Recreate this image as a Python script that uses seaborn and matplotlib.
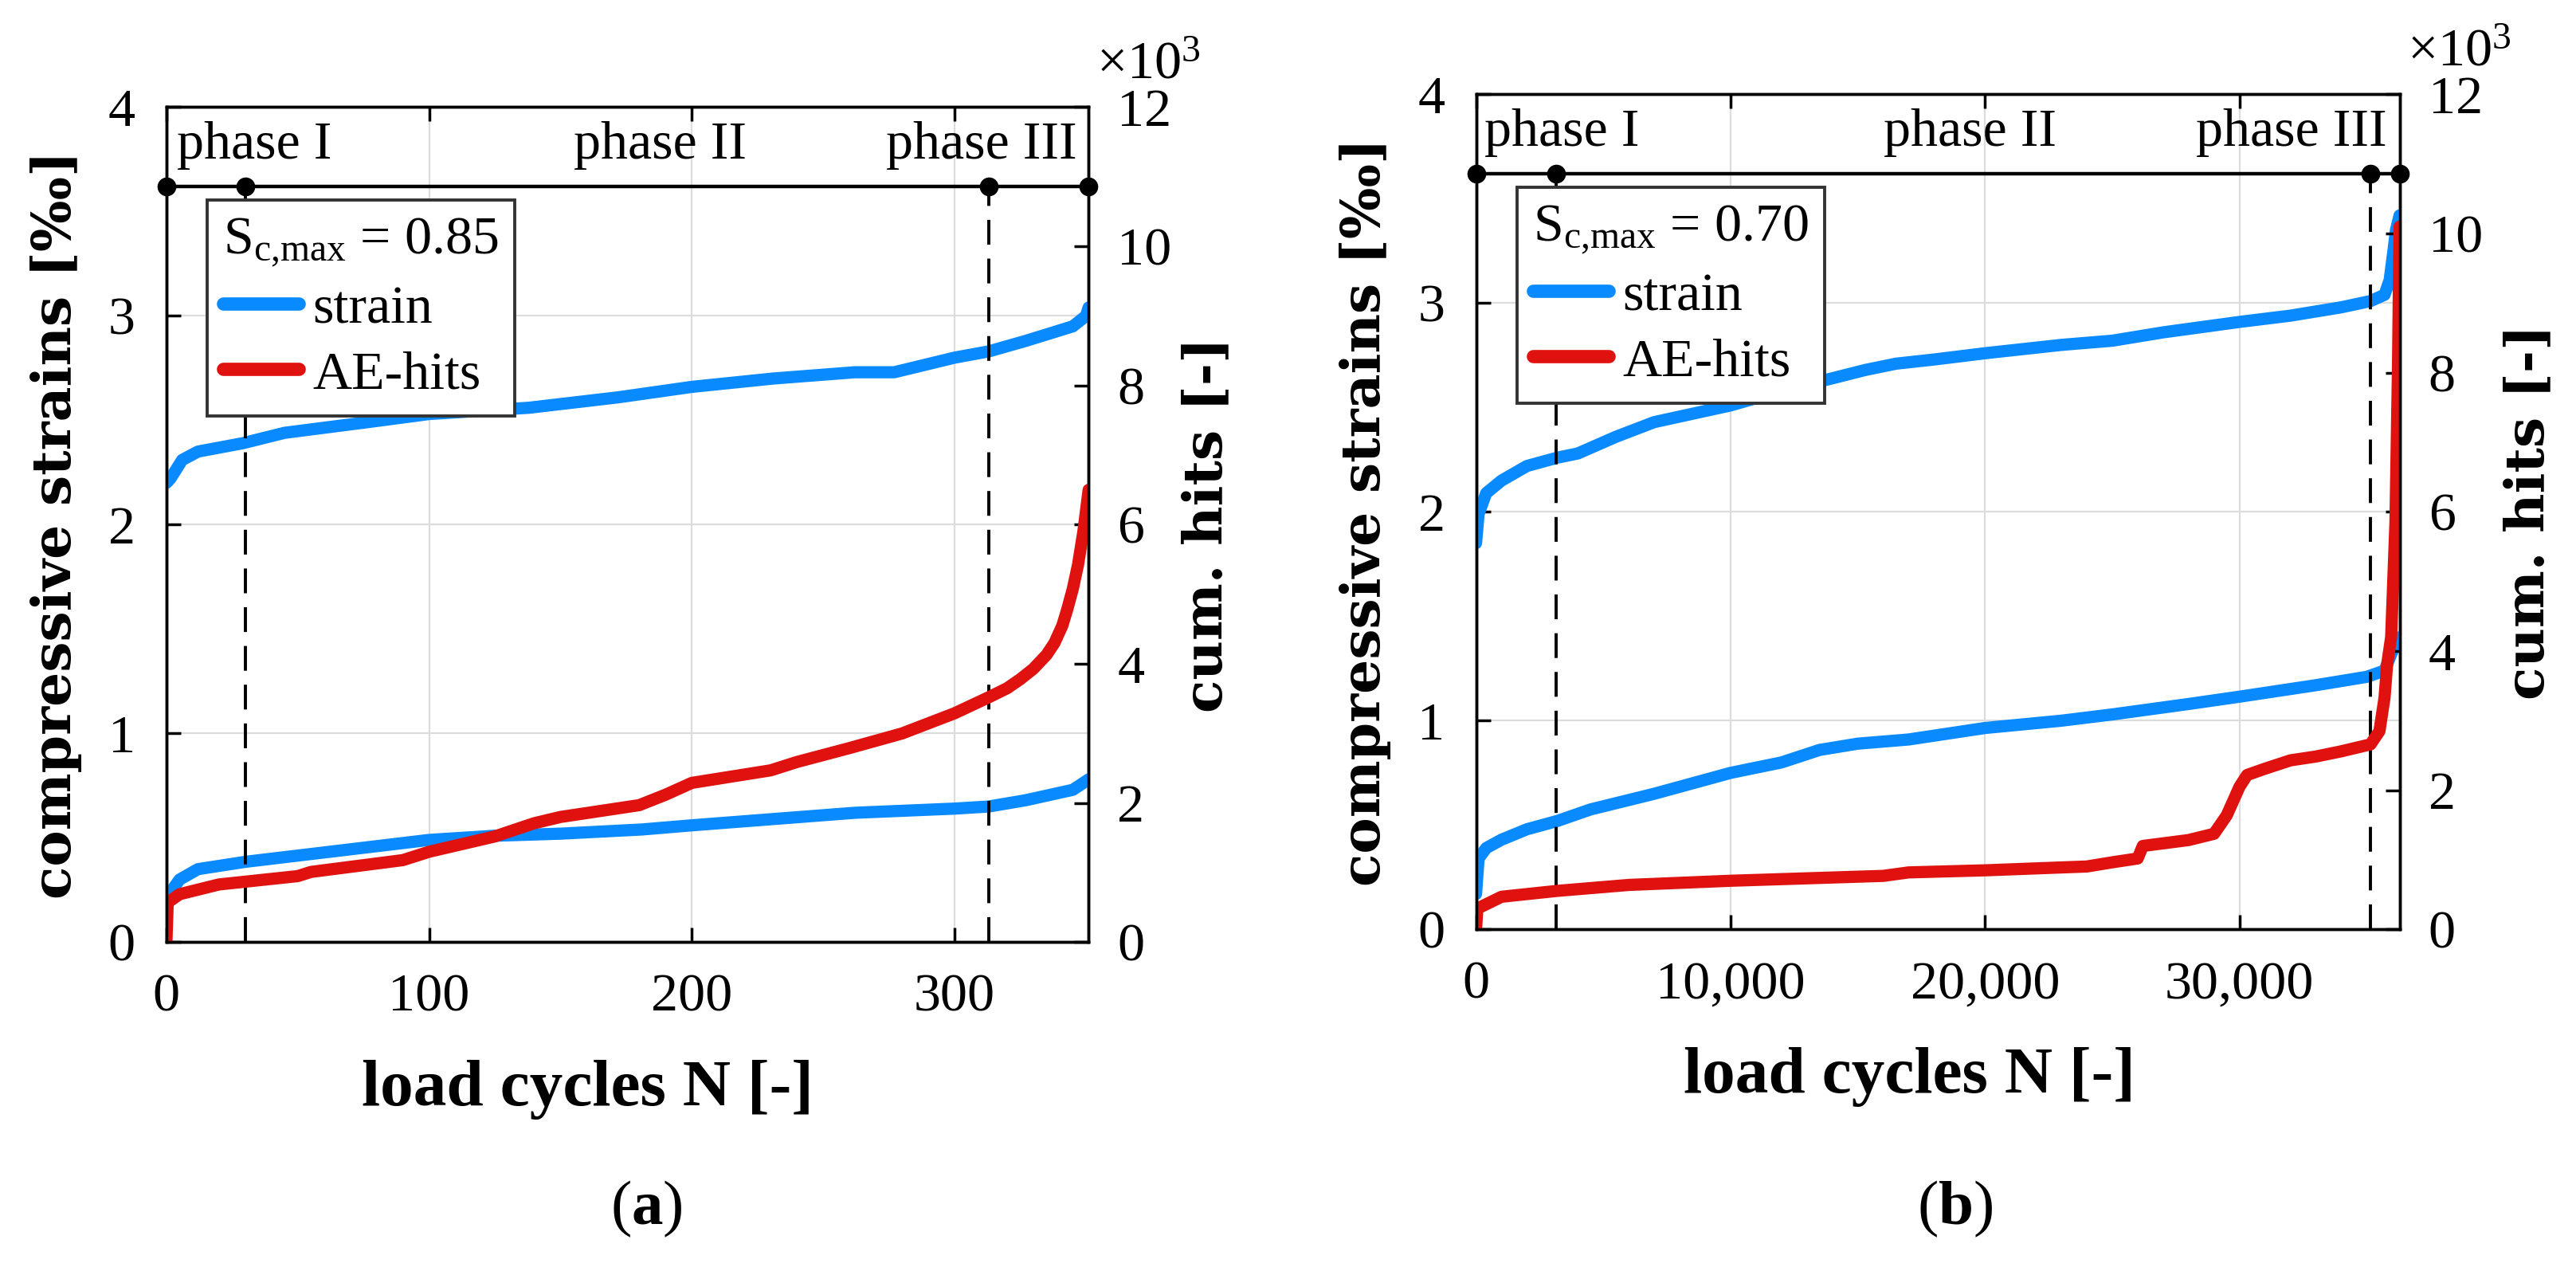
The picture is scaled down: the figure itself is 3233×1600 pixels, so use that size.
import matplotlib
matplotlib.use('Agg')
import matplotlib.pyplot as plt
import seaborn as sns
from matplotlib.lines import Line2D
from matplotlib.ticker import FuncFormatter

sns.set_style('ticks')
plt.rcParams['font.family'] = ['Liberation Serif', 'DejaVu Serif']
plt.rcParams['mathtext.fontset'] = 'custom'
plt.rcParams['mathtext.rm'] = 'Liberation Serif'
plt.rcParams['mathtext.bf'] = 'Liberation Serif:bold'
plt.rcParams['mathtext.it'] = 'Liberation Serif:italic'
for key in ['text.color', 'axes.labelcolor', 'xtick.color', 'ytick.color', 'axes.edgecolor']:
    plt.rcParams[key] = 'black'

BLUE = '#0A8AFF'
RED = '#E0120F'

# ---------------- panel (a): S_c,max = 0.85 ----------------
a_n_upper = [0, 1.5, 6, 12, 29, 45, 76, 100, 138, 172, 200, 231, 262, 277, 300, 313, 327, 345, 350, 351]
a_strain_upper = [2.20, 2.22, 2.31, 2.35, 2.39, 2.44, 2.49, 2.53, 2.56, 2.61, 2.66, 2.70, 2.73, 2.73,
                  2.80, 2.83, 2.88, 2.95, 3.00, 3.04]
a_n_lower = [0, 0.5, 5, 12, 30, 60, 100, 125, 150, 181, 200, 231, 262, 300, 313, 327, 345, 351]
a_strain_lower = [0.20, 0.22, 0.30, 0.35, 0.385, 0.43, 0.49, 0.51, 0.52, 0.54, 0.56, 0.59, 0.62, 0.64,
                  0.65, 0.68, 0.73, 0.78]
a_n_hits = [0, 0.5, 5, 20, 30, 50, 55, 90, 100, 125, 140, 150, 180, 190, 200, 230, 240, 260, 280, 300,
            313, 320, 325, 330, 335, 338, 341, 343, 345, 347, 349, 351]
a_hits = [0, 570, 690, 830, 870, 950, 1010, 1180, 1300, 1520, 1710, 1800, 1970, 2120, 2290, 2470, 2590,
          2790, 3000, 3290, 3520, 3650, 3780, 3930, 4130, 4300, 4550, 4800, 5080, 5430, 5900, 6500]
a_phase_bounds = [0, 30, 313, 351]
a_xticks = [0, 100, 200, 300]
a_smax = '0.85'

# ---------------- panel (b): S_c,max = 0.70 ----------------
b_n_upper = [0, 100, 400, 1000, 2000, 3200, 4000, 5500, 7000, 10000, 12000, 14000, 15300, 16500, 18000,
             20000, 23000, 25000, 27000, 30000, 32000, 34000, 35150, 35700, 35900, 36050, 36150, 36290]
b_strain_upper = [1.85, 1.99, 2.09, 2.15, 2.22, 2.26, 2.28, 2.36, 2.43, 2.51, 2.58, 2.64, 2.68, 2.71, 2.73,
                  2.76, 2.80, 2.82, 2.86, 2.91, 2.94, 2.98, 3.01, 3.04, 3.11, 3.25, 3.35, 3.42]
b_n_lower = [0, 100, 400, 1000, 2000, 3200, 4500, 7000, 10000, 12000, 13500, 15000, 17000, 20000, 23000,
             25000, 28000, 30000, 33000, 35000, 35700, 36000, 36290]
b_strain_lower = [0.17, 0.34, 0.39, 0.43, 0.48, 0.52, 0.575, 0.65, 0.75, 0.80, 0.86, 0.89, 0.91, 0.965,
                  1.00, 1.03, 1.08, 1.115, 1.17, 1.21, 1.24, 1.33, 1.40]
b_n_hits = [0, 50, 1000, 3200, 6000, 10000, 16000, 17000, 20000, 24000, 25000, 26000, 26200, 28000, 29000,
            29500, 30000, 30300, 31000, 32000, 33000, 34000, 35150, 35500, 35700, 35800, 35960, 36130,
            36230, 36290]
b_hits = [0, 300, 470, 555, 640, 700, 770, 820, 850, 905, 965, 1020, 1200, 1285, 1375, 1640, 2050, 2220,
          2310, 2430, 2485, 2560, 2660, 2850, 3330, 3800, 4200, 5860, 8110, 10100]
b_phase_bounds = [0, 3160, 35150, 36290]
b_xticks = [0, 10000, 20000, 30000]
b_smax = '0.70'

phase_names = ['phase I', 'phase II', 'phase III']
phase_level = 3.62
hits_ticks = [0, 2000, 4000, 6000, 8000, 10000, 12000]

FS = 49
LAB = 60
YLAB = 49
LW = 11

fig = plt.figure(figsize=(32.33, 16), dpi=100)
ax_a = fig.add_axes([0.0646, 0.261, 0.358, 0.655])
ax_b = fig.add_axes([0.573, 0.271, 0.3585, 0.655])


def draw_panel(ax, n_up, s_up, n_lo, s_lo, n_hits, hits, bounds, xticks, smax,
               xmax, fmt, xlab_x, rlab_x, txt_pos):
    ax.grid(True, color='#dcdcdc', lw=1.6)
    ax.set_axisbelow(True)
    sns.lineplot(x=n_up, y=s_up, ax=ax, color=BLUE, lw=LW, estimator=None, sort=False, zorder=3)
    sns.lineplot(x=n_lo, y=s_lo, ax=ax, color=BLUE, lw=LW, estimator=None, sort=False, zorder=3)
    ax.vlines(bounds[1:3], 0, phase_level, colors='black', lw=2.8, linestyles=(0, (8, 4.5)), zorder=4)
    ax.plot(bounds, [phase_level] * len(bounds), color='black', lw=3.2, marker='o', ms=16,
            clip_on=False, zorder=6)
    ax.set_xlim(0, xmax)
    ax.set_ylim(0, 4)
    ax.set_xticks(xticks)
    ax.set_yticks([0, 1, 2, 3, 4])
    ax.xaxis.set_major_formatter(FuncFormatter(fmt))
    ax.tick_params(direction='in', length=13, width=2.5, labelsize=FS, top=True, right=False, pad=28)
    for sp in ax.spines.values():
        sp.set_linewidth(2.5)
        sp.set_color('black')
    ax.set_xlabel('load cycles N [-]', fontsize=LAB, fontweight='bold')
    ax.xaxis.set_label_coords(xlab_x, -0.141)
    ax.set_ylabel('compressive strains [‰]', fontsize=YLAB, fontweight='bold', family='DejaVu Serif')
    ax.yaxis.set_label_coords(-0.0915, 0.5)

    trans = ax.transAxes
    ax.text(txt_pos[0], 0.938, phase_names[0], transform=trans, fontsize=FS, ha='left', va='baseline')
    ax.text(txt_pos[1], 0.938, phase_names[1], transform=trans, fontsize=FS, ha='center', va='baseline')
    ax.text(txt_pos[2], 0.938, phase_names[2], transform=trans, fontsize=FS, ha='right', va='baseline')

    ax2 = ax.twinx()
    sns.lineplot(x=n_hits, y=hits, ax=ax2, color=RED, lw=LW, estimator=None, sort=False)
    ax2.set_ylim(0, 12000)
    ax2.set_yticks(hits_ticks)
    ax2.set_yticklabels([str(int(v / 1000)) for v in hits_ticks])
    ax2.tick_params(direction='in', length=13, width=2.5, labelsize=FS, pad=26)
    for sp in ax2.spines.values():
        sp.set_linewidth(2.5)
        sp.set_color('black')
    ax2.set_ylabel('cum. hits [-]', fontsize=YLAB, fontweight='bold', family='DejaVu Serif')
    ax2.yaxis.set_label_coords(rlab_x, 0.5)
    ax2.text(1.008, 1.02, '×10$^\\mathrm{3}$', transform=ax2.transAxes, fontsize=FS, ha='left', va='bottom')

    handles = [Line2D([], [], color=BLUE, lw=12), Line2D([], [], color=RED, lw=12)]
    leg = ax2.legend(handles, ['strain', 'AE-hits'], title='S$_\\mathrm{c{,}max}$ = ' + smax,
                     loc='upper left', bbox_to_anchor=(0.044, 0.889), fontsize=FS, title_fontsize=FS,
                     frameon=True, fancybox=False, framealpha=1, edgecolor='#333333',
                     handlelength=1.4, handletextpad=0.25, borderpad=0.3, labelspacing=0.3,
                     alignment='left', borderaxespad=0)
    leg.get_frame().set_linewidth(2.8)
    leg.set_zorder(10)
    return ax2


draw_panel(ax_a, a_n_upper, a_strain_upper, a_n_lower, a_strain_lower, a_n_hits, a_hits,
           a_phase_bounds, a_xticks, a_smax, 351, lambda v, p: f'{int(v)}', 0.457, 1.100,
           (0.011, 0.535, 0.987))
draw_panel(ax_b, b_n_upper, b_strain_upper, b_n_lower, b_strain_lower, b_n_hits, b_hits,
           b_phase_bounds, b_xticks, b_smax, 36290, lambda v, p: f'{int(v):,}', 0.469, 1.112,
           (0.009, 0.535, 0.986))

fig.text(0.251, 0.052, '($\\mathbf{a}$)', fontsize=57, ha='center', va='center')
fig.text(0.759, 0.052, '($\\mathbf{b}$)', fontsize=57, ha='center', va='center')

fig.savefig('out.png', dpi=100)
